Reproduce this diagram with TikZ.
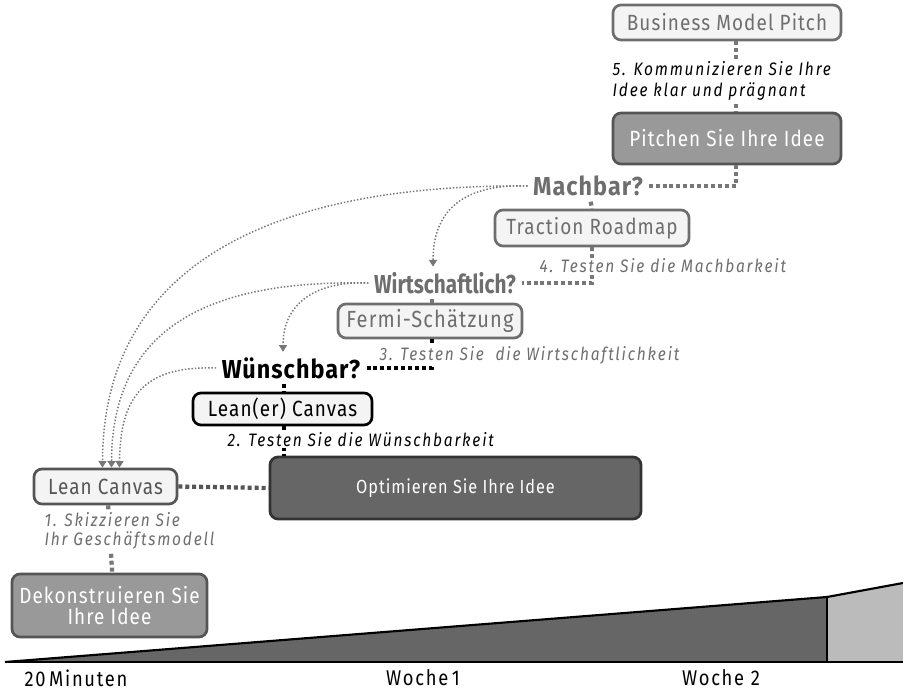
\documentclass[tikz,border=0pt]{standalone}
\usepackage{fontspec}
\setmainfont{Fira Sans}[FakeStretch=0.86, LetterSpace=5]
\newfontfamily\condfont{Fira Sans}[FakeStretch=0.8]
\newfontfamily\qfont{Fira Sans}[FakeStretch=0.9, LetterSpace=4]
\newfontfamily\labelfont{Fira Sans}[FakeStretch=0.86, LetterSpace=10]
\newfontfamily\timefont{Fira Sans}[FakeStretch=0.86, LetterSpace=8]
\usetikzlibrary{arrows.meta,calc}
\definecolor{boxlight}{HTML}{F4F4F4}
\definecolor{gtext}{HTML}{6E6E6E}
\definecolor{gline}{HTML}{777777}
\definecolor{dline}{HTML}{555555}
\definecolor{midfill}{HTML}{999999}
\definecolor{darkfill}{HTML}{666666}
\definecolor{lightfill}{HTML}{BBBBBB}
\tikzset{
  boxbase/.style={rounded corners=6pt, line width=2pt, inner sep=0pt, font=\fontsize{16.5}{18}\selectfont, align=center},
  lightbox/.style={boxbase, draw=#1, fill=boxlight, text=#1},
  fullbox/.style={boxbase, draw=#1, text=white},
  question/.style={inner sep=4pt},
  steplabel/.style={fill=white, inner sep=1pt, anchor=west, align=left, font=\fontsize{13.5}{16}\selectfont\labelfont\itshape},
  thickcon/.style={line width=3.2pt, dash pattern=on 3pt off 2.2pt},
  backarrow/.style={gline, line width=1.1pt, dash pattern=on 1.1pt off 1.4pt, -{Triangle[width=6pt,length=5pt]}},
  tlabel/.style={font=\fontsize{16}{18}\selectfont\timefont, inner sep=1pt},
}
\begin{document}
\begin{tikzpicture}[x=0.75pt,y=-0.75pt]
\useasboundingbox (0,0) rectangle (903,691);

% timeline
\fill[darkfill] (5,662) -- (827,597) -- (827,662) -- cycle;
\fill[lightfill] (827,597) -- (903,583) -- (903,662) -- (827,662) -- cycle;
\draw[line width=1.6pt] (5,662) -- (827,597) -- (903,583);
\draw[line width=1.6pt] (827,597) -- (827,662);
\draw[line width=2.2pt] (5,662) -- (903,662);
\node[tlabel] (t1) at (76,678) {20\,Minuten};
\node[tlabel] (t2) at (423,678) {Woche\,1};
\node[tlabel] (t3) at (721,678) {Woche 2};

% boxes
\node[lightbox=gtext, minimum width=171pt, minimum height=26.25pt] (bmp) at (727,22.5) {Business Model Pitch};
\node[fullbox=dline, fill=midfill, minimum width=171pt, minimum height=38.25pt] (pi) at (727,138.5) {Pitchen Sie Ihre Idee};
\node[lightbox=gtext, minimum width=145.5pt, minimum height=27pt] (tr) at (592,228) {Traction Roadmap};
\node[lightbox=gtext, minimum width=138pt, minimum height=25.5pt, font=\fontsize{17.5}{19}\selectfont] (fs) at (430,321) {Fermi-Schätzung};
\node[lightbox=black, minimum width=134.25pt, minimum height=24pt] (lec) at (282.5,409) {Lean(er) Canvas};
\node[fullbox=black!80, fill=darkfill, minimum width=278.25pt, minimum height=46.5pt, font=\fontsize{14.2}{16}\selectfont] (opt) at (455.5,488) {Optimieren Sie Ihre Idee};
\node[lightbox=dline, minimum width=107.25pt, minimum height=26.25pt] (lc) at (105.5,486.5) {Lean Canvas};
\node[fullbox=dline, fill=midfill, minimum width=146.25pt, minimum height=47.25pt] (dk) at (109.5,605.5) {Dekonstruieren Sie\\[-2pt]Ihre Idee};

% questions
\node[question, text=gtext, font=\fontsize{19.5}{22}\selectfont\qfont\bfseries] (mb) at (588,186) {Machbar?};
\node[question, text=gtext, font=\fontsize{19.5}{22}\selectfont\condfont\bfseries] (ws) at (445,283) {Wirtschaftlich?};
\node[question, text=black, font=\fontsize{19.5}{22}\selectfont\qfont\bfseries] (wb) at (291,368) {Wünschbar?};

% thick connectors
\draw[thickcon, gline] ([xshift=6.75pt]bmp.south) -- ([xshift=6.75pt]pi.north);
\node[steplabel, text=black] (l5) at (611,81) {5. Kommunizieren Sie Ihre\\Idee klar und prägnant};
\draw[thickcon, gline] ([xshift=6.75pt]pi.south) |- (mb.east);
\draw[thickcon, gline] ([xshift=2pt]mb.south) -- ([xshift=0pt]tr.north);
\draw[thickcon, gline] (tr.south) |- (ws.east);
\node[steplabel, text=gtext] (l4) at (538,266) {4. Testen Sie die Machbarkeit};
\draw[thickcon, gline] ([xshift=1.5pt]fs.south |- ws.south) -- ([xshift=1.5pt]fs.north);
\draw[thickcon, black] ([xshift=1.5pt]fs.south) |- (wb.east);
\node[steplabel, text=gtext] (l3) at (378,355) {3. Testen Sie\ \ die Wirtschaftlichkeit};
\draw[thickcon, black] ([xshift=1pt]lec.north |- wb.south) -- ([xshift=1pt]lec.north);
\draw[thickcon, black] ([xshift=1pt]lec.south) -- ([xshift=1pt]lec.south |- opt.north);
\node[steplabel, text=black] (l2) at (226,440) {2. Testen Sie die Wünschbarkeit};
\draw[thickcon, dline] (lc.east) -- (opt.west);
\draw[thickcon, gline] ([xshift=2pt]lc.south) -- ([xshift=2pt]dk.north);
\node[steplabel, text=gtext] (l1) at (43,531) {1. Skizzieren Sie\\[-2pt]Ihr Geschäftsmodell};

% dotted back arrows
\draw[backarrow] (mb.west) .. controls (280,184) and (103,260) .. ([xshift=-2.25pt]lc.north);
\draw[backarrow] (ws.west) .. controls (220,280) and (112,320) .. ([xshift=4.5pt]lc.north);
\draw[backarrow] (wb.west) .. controls (150,366) and (120,390) .. ([xshift=10.5pt]lc.north);
\draw[backarrow] (mb.west) .. controls (470,184) and (433,205) .. ([xshift=-9pt]ws.north);
\draw[backarrow] (ws.west) .. controls (320,281) and (283,300) .. ([xshift=-6pt]wb.north);
\end{tikzpicture}
\end{document}
